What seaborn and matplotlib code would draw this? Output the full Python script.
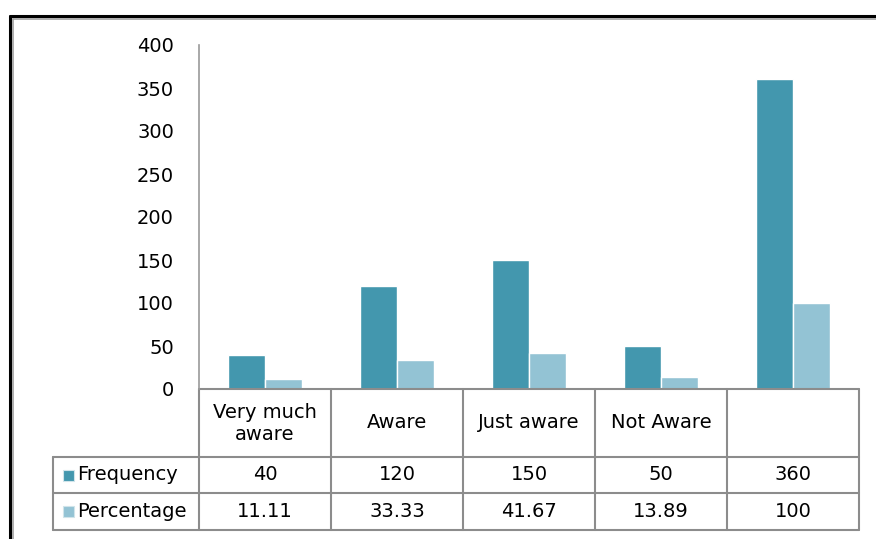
import seaborn as sns
import matplotlib.pyplot as plt
import pandas as pd
from matplotlib.patches import Rectangle
from matplotlib.lines import Line2D

categories = ['Very much\naware', 'Aware', 'Just aware', 'Not Aware', '']
frequency = [40, 120, 150, 50, 360]
percentage = [11.11, 33.33, 41.67, 13.89, 100]
freq_labels = ['40', '120', '150', '50', '360']
pct_labels = ['11.11', '33.33', '41.67', '13.89', '100']
series = ['Frequency', 'Percentage']
colors = ['#4397AE', '#93C3D4']

df = pd.DataFrame({
    'cat': categories * 2,
    'value': frequency + percentage,
    'series': [series[0]] * 5 + [series[1]] * 5,
})

sns.set_style('white')
plt.rcParams['font.family'] = ['DejaVu Sans']
plt.rcParams['text.color'] = 'black'
plt.rcParams['ytick.color'] = 'black'

W, H = 876, 539
fig = plt.figure(figsize=(W / 100, H / 100), dpi=100)
# axes: x 199..859, y 45..389 (pixels)
ax = fig.add_axes([199 / W, (H - 389) / H, 660 / W, 344 / H])

sns.barplot(data=df, x='cat', y='value', hue='series', order=categories,
            palette=colors, saturation=1, width=0.56, edgecolor='white',
            linewidth=1, legend=False, ax=ax)

ax.set_ylim(0, 400)
ax.set_xlim(-0.5, 4.5)
ax.set_yticks(range(0, 401, 50))
ax.tick_params(axis='y', length=0, pad=18, labelsize=14, labelcolor='black')
ax.set_xticks([])
ax.set_xlabel('')
ax.set_ylabel('')
for side in ['top', 'right', 'bottom']:
    ax.spines[side].set_visible(False)
ax.spines['left'].set_color('#9a9a9a')
ax.spines['left'].set_linewidth(1.2)

# data table below the plot (axes coordinates)
px_w, px_h = 660, 344
lab_w = 146 / px_w
col_w = 1 / 5
hdr_h = 68 / px_h
row_h = [36 / px_h, 37 / px_h]
grid = dict(color='#8c8c8c', lw=1.5, transform=ax.transAxes, clip_on=False)

y_top = 0
y_hdr = -hdr_h
y_r1 = y_hdr - row_h[0]
y_r2 = y_r1 - row_h[1]

# horizontal lines
ax.add_line(Line2D([0, 1], [y_top, y_top], **grid))
for y in [y_hdr, y_r1, y_r2]:
    ax.add_line(Line2D([-lab_w, 1], [y, y], **grid))
# vertical lines
for i in range(6):
    ax.add_line(Line2D([i * col_w, i * col_w], [y_r2, y_top], **grid))
ax.add_line(Line2D([-lab_w, -lab_w], [y_r2, y_hdr], **grid))

fs = 14
for i, c in enumerate(categories):
    xc = (i + 0.5) * col_w
    ax.text(xc, y_hdr / 2, c, transform=ax.transAxes, ha='center', va='center',
            fontsize=fs, linespacing=1.2)
    ax.text(xc, (y_hdr + y_r1) / 2, freq_labels[i], transform=ax.transAxes,
            ha='center', va='center', fontsize=fs)
    ax.text(xc, (y_r1 + y_r2) / 2, pct_labels[i], transform=ax.transAxes,
            ha='center', va='center', fontsize=fs)

for j, (name, col) in enumerate(zip(series, colors)):
    yc = (y_hdr + y_r1) / 2 if j == 0 else (y_r1 + y_r2) / 2
    sq = 11 / px_w
    sqh = 11 / px_h
    ax.add_patch(Rectangle((-lab_w + 10 / px_w, yc - sqh / 2), sq, sqh,
                           facecolor=col, edgecolor='#d0e4ea', lw=0.8,
                           transform=ax.transAxes, clip_on=False))
    ax.text(-lab_w + 24 / px_w, yc, name, transform=ax.transAxes,
            ha='left', va='center', fontsize=fs)

# outer chart border (top and left)
fig.add_artist(Line2D([10 / W, 1], [1 - 16 / H, 1 - 16 / H], color='black',
                      lw=2.2, transform=fig.transFigure))
fig.add_artist(Line2D([10 / W, 10 / W], [0, 1 - 16 / H], color='black',
                      lw=2.2, transform=fig.transFigure))
fig.add_artist(Line2D([12.5 / W, 1], [1 - 18.5 / H, 1 - 18.5 / H],
                      color='#a0a0a0', lw=1.2, transform=fig.transFigure))
fig.add_artist(Line2D([12.5 / W, 12.5 / W], [0, 1 - 18.5 / H],
                      color='#a0a0a0', lw=1.2, transform=fig.transFigure))

fig.savefig('out.png', dpi=100)
